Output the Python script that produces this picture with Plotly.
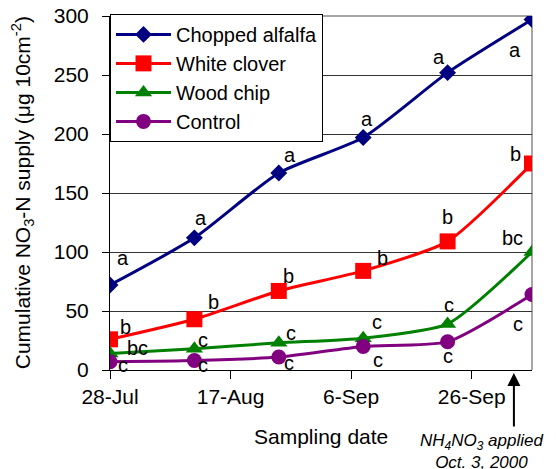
import plotly.graph_objects as go

# ---- data ----
dates = ["2000-07-28", "2000-08-11", "2000-08-25", "2000-09-08", "2000-09-22", "2000-10-06"]
series_names = ["Chopped alfalfa", "White clover", "Wood chip", "Control"]
alfalfa = [72, 112, 167, 197, 252, 297]
clover = [26, 43, 67, 84, 109, 175]
woodchip = [14, 18, 23, 27, 39, 100]
control = [7, 8, 11, 20, 24, 64]

alfalfa_letters = ["a", "a", "a", "a", "a", "a"]
clover_letters = ["b", "b", "b", "b", "b", "b"]
woodchip_letters = ["bc", "c", "c", "c", "c", "bc"]
control_letters = ["c", "c", "c", "c", "c", "c"]

tick_dates = ["2000-07-28", "2000-08-17", "2000-09-06", "2000-09-26"]
tick_labels = ["28-Jul", "17-Aug", "6-Sep", "26-Sep"]
y_ticks = [0, 50, 100, 150, 200, 250, 300]
application_date = "2000-10-03"

# ---- styling ----
FONT = "Liberation Sans, Arial, sans-serif"
FS = 21
colors = ["#000080", "#FF0000", "#008000", "#800080"]
symbols = ["diamond", "square", "triangle-up", "circle"]
msizes = [13, 16, 15, 15]
values = [alfalfa, clover, woodchip, control]
letters = [alfalfa_letters, clover_letters, woodchip_letters, control_letters]

# pixel offsets (dx, dy) of letter labels from each point; dy positive = down
offsets = [
    [(13, -27), (7, -20), (11, -18), (4, -19), (-9, -16), (-17, 30)],
    [(15, -12), (19, -17), (10, -15), (19, -13), (0, -24), (-17, -10)],
    [(27, -5), (9, -9), (12, -10), (14, -16), (1, -19), (-20, -14)],
    [(13, 3), (9, 4), (10, 6), (15, 14), (0, 14), (-14, 30)],
]

fig = go.Figure()
for name, vals, col, sym, ms in zip(series_names, values, colors, symbols, msizes):
    fig.add_trace(go.Scatter(
        x=dates, y=vals, name=name, mode="lines+markers",
        line=dict(color=col, width=3, shape="spline", smoothing=0.6),
        marker=dict(symbol=sym, size=ms, color=col),
    ))

annotations = []
for vals, labs, offs in zip(values, letters, offsets):
    for d, v, lab, (dx, dy) in zip(dates, vals, labs, offs):
        annotations.append(dict(
            x=d, y=v, xref="x", yref="y", text=lab, showarrow=False,
            xshift=dx, yshift=-dy, font=dict(size=20, color="black", family=FONT),
        ))

# axis titles
annotations.append(dict(
    x=-0.208, y=0.5, xref="paper", yref="paper", xanchor="center", yanchor="middle",
    text="Cumulative NO<sub>3</sub>-N supply (μg 10cm<sup>-2</sup>)", textangle=-90,
    showarrow=False, font=dict(size=FS, color="black", family=FONT),
))
annotations.append(dict(
    x=0.5, y=-0.188, xref="paper", yref="paper", xanchor="center", yanchor="middle",
    text="Sampling date", showarrow=False, font=dict(size=FS, color="black", family=FONT),
))

# arrow marking fertilizer application
annotations.append(dict(
    x=application_date, y=0, xref="x", yref="paper", text="",
    showarrow=True, arrowhead=2, arrowsize=1.3, arrowwidth=2, arrowcolor="black",
    ax=0, ay=55, yshift=-3,
))
annotations.append(dict(
    x=0.8815, y=-0.195, xref="paper", yref="paper", xanchor="center", yanchor="top",
    yshift=10,
    text="<i>NH<sub>4</sub>NO<sub>3</sub> applied</i><br><i>Oct. 3, 2000</i>",
    showarrow=False, align="center", font=dict(size=17, color="black", family=FONT),
))

# page body has an 8px margin, so the figure is 8px smaller and margins reduced
fig.update_layout(
    width=548, height=461,
    margin=dict(l=102, r=24, t=6, b=99),
    paper_bgcolor="white", plot_bgcolor="white",
    font=dict(family=FONT, size=FS, color="black"),
    showlegend=True,
    legend=dict(
        x=0, y=1.006, xanchor="left", yanchor="top",
        bgcolor="white", bordercolor="black", borderwidth=1,
        font=dict(size=20, family=FONT, color="black"),
        tracegroupgap=0, itemwidth=55,
    ),
    annotations=annotations,
    shapes=[
        dict(type="line", xref="paper", yref="paper", x0=0, x1=1, y0=1, y1=1,
             line=dict(color="#888888", width=1.5), layer="below"),
        dict(type="line", xref="paper", yref="paper", x0=1, x1=1, y0=0, y1=1,
             line=dict(color="#888888", width=1.5), layer="below"),
    ],
)

fig.update_xaxes(
    type="date", range=["2000-07-28", "2000-10-06"],
    tickvals=tick_dates, ticktext=tick_labels,
    ticks="outside", ticklen=8, tickcolor="black", tickwidth=1,
    showline=True, linecolor="black", linewidth=1,
    showgrid=False, zeroline=False, automargin=False, ticklabeloverflow="allow",
    tickfont=dict(size=FS, family=FONT, color="black"),
)
fig.update_yaxes(
    range=[0, 300], tickvals=y_ticks,
    ticks="outside", ticklen=7, tickcolor="black", tickwidth=1,
    showline=True, linecolor="black", linewidth=1, ticklabelstandoff=9,
    showgrid=True, gridcolor="#333333", gridwidth=1, zeroline=False, automargin=False,
    ticklabeloverflow="allow",
    tickfont=dict(size=FS, family=FONT, color="black"),
)

fig.write_html("out.html")
